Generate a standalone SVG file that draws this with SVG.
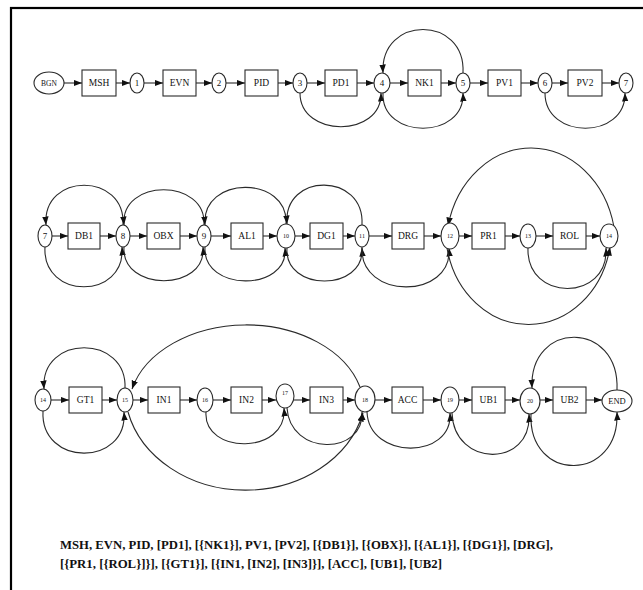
<svg xmlns="http://www.w3.org/2000/svg" width="643" height="590" viewBox="0 0 643 590">
<style>
  .box { fill: #fff; stroke: #2a2a2a; stroke-width: 1.1; }
  .st { fill: #fff; stroke: #2a2a2a; stroke-width: 1.1; }
  .lbl { font-family: "Liberation Serif", "Times New Roman", serif; font-size: 9.5px; fill: #111; text-anchor: middle; dominant-baseline: central; }
  .num { font-family: "Liberation Serif", "Times New Roman", serif; font-size: 9px; fill: #111; text-anchor: middle; dominant-baseline: central; }
  .sm { font-size: 6px; }
  .edge { fill: none; stroke: #2a2a2a; stroke-width: 1.1; marker-end: url(#ah); }
  .cap { font-family: "Liberation Serif", "Times New Roman", serif; font-size: 11.5px; font-weight: bold; fill: #111; }
</style>
<defs>
  <marker id="ah" markerUnits="userSpaceOnUse" markerWidth="9" markerHeight="7" refX="8.5" refY="3.25" orient="auto">
    <path d="M0,0 L8.5,3.25 L0,6.5 z" fill="#111"/>
  </marker>
</defs>
<rect width="643" height="590" fill="#fff"/>
<rect x="11" y="8" width="640" height="600" fill="none" stroke="#000" stroke-width="2.2"/>

<g id="connectors">
  <!-- row 1 chain -->
  <path class="edge" d="M64 83 H82"/>
  <path class="edge" d="M116 83 H130"/>
  <path class="edge" d="M144 83 H163"/>
  <path class="edge" d="M196 83 H212"/>
  <path class="edge" d="M226 83 H245"/>
  <path class="edge" d="M278 83 H293"/>
  <path class="edge" d="M307 83 H325"/>
  <path class="edge" d="M357 83 H374"/>
  <path class="edge" d="M390 83 H408"/>
  <path class="edge" d="M441 83 H456"/>
  <path class="edge" d="M470 83 H488"/>
  <path class="edge" d="M521 83 H538"/>
  <path class="edge" d="M552 83 H568"/>
  <path class="edge" d="M602 83 H619"/>
  <!-- row 1 loops -->
  <path class="edge" d="M300 93 C300 138, 382 138, 381 93"/>
  <path class="edge" d="M383 93 C381 140, 465 140, 463 93"/>
  <path class="edge" d="M463 73 C466 15, 380 15, 383 73"/>
  <path class="edge" d="M545 93 C545 140, 626 140, 625 93"/>

  <!-- row 2 chain -->
  <path class="edge" d="M52 236 H68"/>
  <path class="edge" d="M100 236 H116"/>
  <path class="edge" d="M130 236 H147"/>
  <path class="edge" d="M180 236 H197"/>
  <path class="edge" d="M211 236 H231"/>
  <path class="edge" d="M263 236 H277"/>
  <path class="edge" d="M295 236 H310"/>
  <path class="edge" d="M343 236 H355"/>
  <path class="edge" d="M369 236 H392"/>
  <path class="edge" d="M424 236 H441"/>
  <path class="edge" d="M459 236 H472"/>
  <path class="edge" d="M505 236 H520"/>
  <path class="edge" d="M536 236 H553"/>
  <path class="edge" d="M586 236 H600"/>
  <!-- row 2 loops -->
  <path class="edge" d="M123 225 C126 172, 42 172, 46 225"/>
  <path class="edge" d="M45 247 C42 300, 126 300, 122 247"/>
  <path class="edge" d="M204 225 C207 178, 120 178, 124 225"/>
  <path class="edge" d="M124 247 C121 292, 207 292, 203 247"/>
  <path class="edge" d="M286 224 C289 175, 201 175, 205 225"/>
  <path class="edge" d="M205 247 C202 292, 289 292, 285 248"/>
  <path class="edge" d="M362 225 C365 172, 283 172, 287 224"/>
  <path class="edge" d="M287 248 C284 292, 365 292, 362 248"/>
  <path class="edge" d="M362 247 C359 300, 453 300, 449 248"/>
  <path class="edge" d="M614 227 A85 100 0 0 0 448 226"/>
  <path class="edge" d="M447 248 A83 95 0 0 0 610 247"/>
  <path class="edge" d="M528 248 C526 302, 609 302, 606 248"/>

  <!-- row 3 chain -->
  <path class="edge" d="M51 400 H69"/>
  <path class="edge" d="M102 400 H117"/>
  <path class="edge" d="M133 400 H148"/>
  <path class="edge" d="M180 400 H197"/>
  <path class="edge" d="M213 400 H231"/>
  <path class="edge" d="M262 400 H276"/>
  <path class="edge" d="M294 400 H310"/>
  <path class="edge" d="M343 400 H355"/>
  <path class="edge" d="M375 400 H392"/>
  <path class="edge" d="M423 400 H441"/>
  <path class="edge" d="M459 400 H472"/>
  <path class="edge" d="M505 400 H520"/>
  <path class="edge" d="M540 400 H553"/>
  <path class="edge" d="M586 400 H602"/>
  <!-- row 3 loops -->
  <path class="edge" d="M125 389 C128 334, 40 334, 44 389"/>
  <path class="edge" d="M43 411 C40 467, 128 467, 124 412"/>
  <path class="edge" d="M360 387 A118 85 0 0 0 132 389"/>
  <path class="edge" d="M128 412 A121 102 0 0 0 363 413"/>
  <path class="edge" d="M206 412 C203 455, 288 455, 284 408"/>
  <path class="edge" d="M287 408 C290 456, 364 456, 362 412"/>
  <path class="edge" d="M367 412 C369 460, 453 460, 450 413"/>
  <path class="edge" d="M452 413 C454 468, 532 468, 529 414"/>
  <path class="edge" d="M617 390 C620 320, 529 320, 532 388"/>
  <path class="edge" d="M531 414 C528 483, 620 483, 617 412"/>
</g>

<!-- row 1 nodes -->
<g id="BGN"><ellipse class="st" cx="49" cy="83" rx="15" ry="11"/><text class="num" x="49" y="83" style="font-size:7.5px">BGN</text></g>
<g id="MSH"><rect class="box" x="82" y="70" width="34" height="26"/><text class="lbl" x="99" y="83">MSH</text></g>
<g id="n1"><ellipse class="st" cx="137" cy="83" rx="7" ry="10"/><text class="num" x="137" y="83">1</text></g>
<g id="EVN"><rect class="box" x="163" y="70" width="33" height="26"/><text class="lbl" x="179.5" y="83">EVN</text></g>
<g id="n2"><ellipse class="st" cx="219" cy="83" rx="7" ry="10"/><text class="num" x="219" y="83">2</text></g>
<g id="PID"><rect class="box" x="245" y="70" width="33" height="26"/><text class="lbl" x="261.5" y="83">PID</text></g>
<g id="n3"><ellipse class="st" cx="300" cy="83" rx="7" ry="10"/><text class="num" x="300" y="83">3</text></g>
<g id="PD1"><rect class="box" x="325" y="70" width="32" height="26"/><text class="lbl" x="341" y="83">PD1</text></g>
<g id="n4"><ellipse class="st" cx="382" cy="83" rx="8" ry="10"/><text class="num" x="382" y="83">4</text></g>
<g id="NK1"><rect class="box" x="408" y="70" width="33" height="26"/><text class="lbl" x="424.5" y="83">NK1</text></g>
<g id="n5"><ellipse class="st" cx="463" cy="83" rx="7" ry="10"/><text class="num" x="463" y="83">5</text></g>
<g id="PV1"><rect class="box" x="488" y="70" width="33" height="26"/><text class="lbl" x="504.5" y="83">PV1</text></g>
<g id="n6"><ellipse class="st" cx="545" cy="83" rx="7" ry="10"/><text class="num" x="545" y="83">6</text></g>
<g id="PV2"><rect class="box" x="568" y="70" width="34" height="26"/><text class="lbl" x="585" y="83">PV2</text></g>
<g id="n7a"><ellipse class="st" cx="626" cy="83" rx="7" ry="10"/><text class="num" x="626" y="83">7</text></g>

<!-- row 2 nodes -->
<g id="n7b"><ellipse class="st" cx="45" cy="236" rx="7" ry="11"/><text class="num" x="45" y="236">7</text></g>
<g id="DB1"><rect class="box" x="68" y="223" width="32" height="26"/><text class="lbl" x="84" y="236">DB1</text></g>
<g id="n8"><ellipse class="st" cx="123" cy="236" rx="7" ry="11"/><text class="num" x="123" y="236">8</text></g>
<g id="OBX"><rect class="box" x="147" y="223" width="33" height="26"/><text class="lbl" x="163.5" y="236">OBX</text></g>
<g id="n9"><ellipse class="st" cx="204" cy="236" rx="7" ry="11"/><text class="num" x="204" y="236">9</text></g>
<g id="AL1"><rect class="box" x="231" y="223" width="32" height="26"/><text class="lbl" x="247" y="236">AL1</text></g>
<g id="n10"><ellipse class="st" cx="286" cy="236" rx="9" ry="12"/><text class="num sm" x="286" y="236">10</text></g>
<g id="DG1"><rect class="box" x="310" y="223" width="33" height="26"/><text class="lbl" x="326.5" y="236">DG1</text></g>
<g id="n11"><ellipse class="st" cx="362" cy="236" rx="7" ry="11"/><text class="num sm" x="362" y="236">11</text></g>
<g id="DRG"><rect class="box" x="392" y="223" width="32" height="26"/><text class="lbl" x="408" y="236">DRG</text></g>
<g id="n12"><ellipse class="st" cx="450" cy="236" rx="9" ry="13"/><text class="num sm" x="450" y="236">12</text></g>
<g id="PR1"><rect class="box" x="472" y="223" width="33" height="26"/><text class="lbl" x="488.5" y="236">PR1</text></g>
<g id="n13"><ellipse class="st" cx="528" cy="236" rx="8" ry="12"/><text class="num sm" x="528" y="236">13</text></g>
<g id="ROL"><rect class="box" x="553" y="223" width="33" height="26"/><text class="lbl" x="569.5" y="236">ROL</text></g>
<g id="n14a"><ellipse class="st" cx="609" cy="236" rx="9" ry="12"/><text class="num sm" x="609" y="236">14</text></g>

<!-- row 3 nodes -->
<g id="n14b"><ellipse class="st" cx="43" cy="400" rx="8" ry="11"/><text class="num sm" x="43" y="400">14</text></g>
<g id="GT1"><rect class="box" x="69" y="387" width="33" height="26"/><text class="lbl" x="85.5" y="400">GT1</text></g>
<g id="n15"><ellipse class="st" cx="125" cy="400" rx="8" ry="12"/><text class="num sm" x="125" y="400">15</text></g>
<g id="IN1"><rect class="box" x="148" y="387" width="32" height="26"/><text class="lbl" x="164" y="400">IN1</text></g>
<g id="n16"><ellipse class="st" cx="205" cy="400" rx="8" ry="12"/><text class="num sm" x="205" y="400">16</text></g>
<g id="IN2"><rect class="box" x="231" y="387" width="31" height="26"/><text class="lbl" x="246.5" y="400">IN2</text></g>
<g id="n17"><ellipse class="st" cx="285" cy="396" rx="9" ry="12"/><text class="num sm" x="285" y="393">17</text></g>
<g id="IN3"><rect class="box" x="310" y="387" width="33" height="26"/><text class="lbl" x="326.5" y="400">IN3</text></g>
<g id="n18"><ellipse class="st" cx="365" cy="399" rx="10" ry="13"/><text class="num sm" x="365" y="400">18</text></g>
<g id="ACC"><rect class="box" x="392" y="387" width="31" height="26"/><text class="lbl" x="407.5" y="400">ACC</text></g>
<g id="n19"><ellipse class="st" cx="450" cy="400" rx="9" ry="13"/><text class="num sm" x="450" y="400">19</text></g>
<g id="UB1"><rect class="box" x="472" y="387" width="33" height="26"/><text class="lbl" x="488.5" y="400">UB1</text></g>
<g id="n20"><ellipse class="st" cx="530" cy="401" rx="10" ry="13"/><text class="num sm" x="530" y="401">20</text></g>
<g id="UB2"><rect class="box" x="553" y="387" width="33" height="26"/><text class="lbl" x="569.5" y="400">UB2</text></g>
<g id="END"><ellipse class="st" cx="617" cy="401" rx="15" ry="11"/><text class="num" x="617" y="401" style="font-size:8.5px">END</text></g>

<!-- grammar caption -->
<text class="cap" x="60" y="549" textLength="493" lengthAdjust="spacingAndGlyphs">MSH, EVN, PID, [PD1], [{NK1}], PV1, [PV2], [{DB1}], [{OBX}], [{AL1}], [{DG1}], [DRG],</text>
<text class="cap" x="60" y="568" textLength="382" lengthAdjust="spacingAndGlyphs">[{PR1, [{ROL}]}], [{GT1}], [{IN1, [IN2], [IN3]}], [ACC], [UB1], [UB2]</text>
</svg>
